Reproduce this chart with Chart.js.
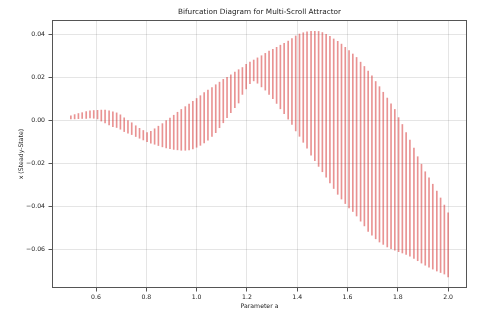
<!DOCTYPE html>
<html>
<head>
<meta charset="utf-8">
<script src="https://cdn.jsdelivr.net/npm/chart.js@4.4.1/dist/chart.umd.min.js"></script>
<style>
  html, body { margin: 0; padding: 0; background: #ffffff; }
  #wrap { width: 480px; height: 318px; }
</style>
</head>
<body>
<div id="wrap"><canvas id="c" width="480" height="318"></canvas></div>
<script>
// Parameter a values (100 steps from 0.5 to 2.0)
const paramA = [
  0.500, 0.515, 0.530, 0.545, 0.561, 0.576, 0.591, 0.606, 0.621, 0.636,
  0.652, 0.667, 0.682, 0.697, 0.712, 0.727, 0.742, 0.758, 0.773, 0.788,
  0.803, 0.818, 0.833, 0.848, 0.864, 0.879, 0.894, 0.909, 0.924, 0.939,
  0.955, 0.970, 0.985, 1.000, 1.015, 1.030, 1.045, 1.061, 1.076, 1.091,
  1.106, 1.121, 1.136, 1.152, 1.167, 1.182, 1.197, 1.212, 1.227, 1.242,
  1.258, 1.273, 1.288, 1.303, 1.318, 1.333, 1.348, 1.364, 1.379, 1.394,
  1.409, 1.424, 1.439, 1.455, 1.470, 1.485, 1.500, 1.515, 1.530, 1.545,
  1.561, 1.576, 1.591, 1.606, 1.621, 1.636, 1.652, 1.667, 1.682, 1.697,
  1.712, 1.727, 1.742, 1.758, 1.773, 1.788, 1.803, 1.818, 1.833, 1.848,
  1.864, 1.879, 1.894, 1.909, 1.924, 1.939, 1.955, 1.970, 1.985, 2.000
];
// Upper end of steady-state x range at each a
const xMax = [
  0.0020, 0.0026, 0.0031, 0.0035, 0.0040, 0.0043, 0.0045, 0.0046, 0.0047, 0.0047,
  0.0043, 0.0039, 0.0034, 0.0025, 0.0011, 0.0000, -0.0012, -0.0026, -0.0038, -0.0048,
  -0.0058, -0.0052, -0.0040, -0.0028, -0.0016, -0.0002, 0.0010, 0.0023, 0.0037, 0.0050,
  0.0063, 0.0075, 0.0088, 0.0101, 0.0114, 0.0128, 0.0140, 0.0152, 0.0165, 0.0177,
  0.0190, 0.0200, 0.0211, 0.0224, 0.0235, 0.0245, 0.0260, 0.0270, 0.0280, 0.0290,
  0.0300, 0.0311, 0.0322, 0.0330, 0.0339, 0.0349, 0.0358, 0.0368, 0.0380, 0.0392,
  0.0401, 0.0407, 0.0411, 0.0413, 0.0414, 0.0413, 0.0408, 0.0400, 0.0390, 0.0378,
  0.0367, 0.0354, 0.0339, 0.0324, 0.0308, 0.0292, 0.0270, 0.0250, 0.0228, 0.0206,
  0.0180, 0.0156, 0.0130, 0.0103, 0.0076, 0.0050, 0.0012, -0.0020, -0.0058, -0.0092,
  -0.0130, -0.0170, -0.0205, -0.0240, -0.0268, -0.0298, -0.0330, -0.0362, -0.0395, -0.0431
];
// Lower end of steady-state x range at each a
const xMin = [
  0.0006, 0.0006, 0.0007, 0.0008, 0.0008, 0.0010, 0.0009, 0.0006, -0.0004, -0.0013,
  -0.0022, -0.0030, -0.0034, -0.0042, -0.0053, -0.0060, -0.0067, -0.0076, -0.0084, -0.0092,
  -0.0100, -0.0107, -0.0112, -0.0118, -0.0124, -0.0129, -0.0133, -0.0136, -0.0138, -0.0140,
  -0.0140, -0.0138, -0.0134, -0.0126, -0.0117, -0.0106, -0.0093, -0.0076, -0.0058, -0.0035,
  -0.0012, 0.0012, 0.0035, 0.0058, 0.0080, 0.0120, 0.0145, 0.0170, 0.0183, 0.0172,
  0.0155, 0.0140, 0.0120, 0.0100, 0.0078, 0.0053, 0.0030, 0.0005, -0.0020, -0.0050,
  -0.0075, -0.0103, -0.0130, -0.0163, -0.0188, -0.0215, -0.0240, -0.0265, -0.0292, -0.0318,
  -0.0345, -0.0367, -0.0388, -0.0408, -0.0425, -0.0446, -0.0470, -0.0492, -0.0518, -0.0535,
  -0.0552, -0.0567, -0.0578, -0.0590, -0.0598, -0.0605, -0.0612, -0.0618, -0.0625, -0.0633,
  -0.0643, -0.0654, -0.0665, -0.0675, -0.0684, -0.0693, -0.0702, -0.0709, -0.0716, -0.0729
];
const xTickValues = [0.6, 0.8, 1.0, 1.2, 1.4, 1.6, 1.8, 2.0];
const yTickValues = [-0.06, -0.04, -0.02, 0.00, 0.02, 0.04];
const chartTitle = 'Bifurcation Diagram for Multi-Scroll Attractor';
const xAxisTitle = 'Parameter a';
const yAxisTitle = 'x (Steady-State)';

const FONT = 'DejaVu Sans';

const framePlugin = {
  id: 'frame',
  afterDatasetsDraw(chart) {
    const {ctx, chartArea: a} = chart;
    ctx.save();
    ctx.strokeStyle = '#555555';
    ctx.lineWidth = 1;
    ctx.strokeRect(Math.round(a.left) + 0.5, Math.round(a.top) + 0.5,
                   Math.round(a.right - a.left) - 1, Math.round(a.bottom - a.top) - 1);
    ctx.restore();
  }
};

new Chart(document.getElementById('c'), {
  type: 'bar',
  data: {
    datasets: [{
      data: paramA.map((a, i) => ({ x: a, y: [xMin[i], xMax[i]] })),
      backgroundColor: 'rgba(210, 30, 30, 0.48)',
      borderWidth: 0,
      barThickness: 1,
      grouped: false
    }]
  },
  options: {
    responsive: false,
    animation: false,
    devicePixelRatio: 1,
    layout: { padding: { left: 0, right: 13, top: 0, bottom: 0 } },
    plugins: {
      legend: { display: false },
      tooltip: { enabled: false },
      title: {
        display: true,
        text: chartTitle,
        fullSize: false,
        color: '#222222',
        font: { family: FONT, size: 7.3, weight: 'normal' },
        padding: { top: 8, bottom: 3.3 }
      }
    },
    scales: {
      x: {
        type: 'linear',
        min: 0.425,
        max: 2.075,
        offset: false,
        grid: { offset: false, color: 'rgba(0,0,0,0.1)', lineWidth: 1, tickLength: 3.5, tickColor: '#555555', tickWidth: 1 },
        border: { display: false },
        afterBuildTicks: (axis) => { axis.ticks = xTickValues.map(v => ({ value: v })); },
        afterFit: (scale) => { scale.height = 30; },
        ticks: {
          color: '#222222',
          padding: 2,
          maxRotation: 0,
          font: { family: FONT, size: 6.2 },
          callback: (v) => Number(v).toFixed(1)
        },
        title: {
          display: true,
          text: xAxisTitle,
          color: '#222222',
          font: { family: FONT, size: 6.2 },
          padding: { top: 0, bottom: 8 }
        }
      },
      y: {
        type: 'linear',
        min: -0.0781,
        max: 0.0466,
        grid: { color: 'rgba(0,0,0,0.1)', lineWidth: 1, tickLength: 3.5, tickColor: '#555555', tickWidth: 1 },
        border: { display: false },
        afterBuildTicks: (axis) => { axis.ticks = yTickValues.map(v => ({ value: v })); },
        afterFit: (scale) => { scale.width = 52; },
        ticks: {
          color: '#222222',
          padding: 3.5,
          font: { family: FONT, size: 6.2 },
          callback: (v) => Number(v).toFixed(2).replace('-', '\u2212')
        },
        title: {
          display: true,
          text: yAxisTitle,
          color: '#222222',
          font: { family: FONT, size: 6.2 },
          padding: { top: 18, bottom: 0 }
        }
      }
    }
  },
  plugins: [framePlugin]
});
</script>
</body>
</html>
